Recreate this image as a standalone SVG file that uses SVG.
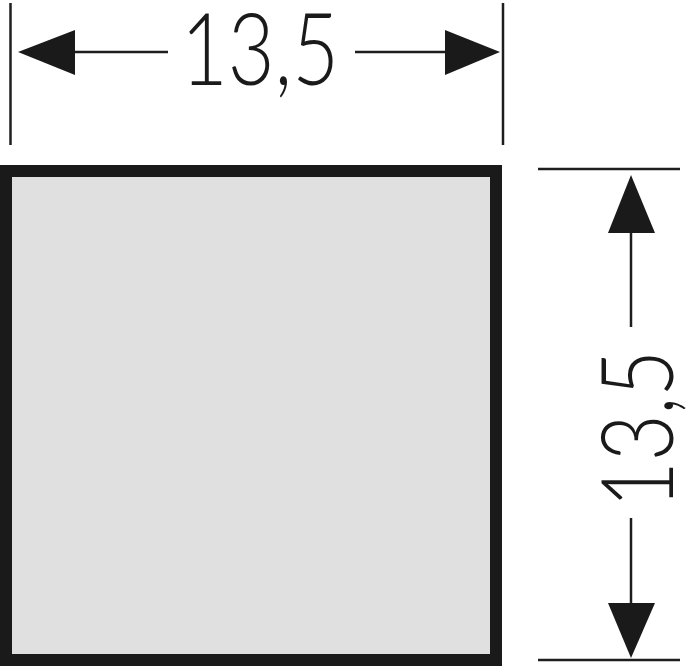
<svg xmlns="http://www.w3.org/2000/svg" width="700" height="666" viewBox="0 0 700 666">
<style>
.ln{stroke:#1e1e1e;stroke-width:2.5;fill:none}
.ah{fill:#1a1a1a}
.t{font-family:Lato,"Open Sans","DejaVu Sans Condensed",sans-serif;font-weight:300;font-size:100px;fill:#1a1a1a;text-anchor:middle}
</style>
<rect width="700" height="666" fill="#ffffff"/>
<g id="square">
<rect x="6" y="171" width="490" height="489" fill="#e0e0e0" stroke="#1a1a1a" stroke-width="12"/>
</g>
<g id="connectors">
<line class="ln" x1="10.5" y1="3" x2="10.5" y2="145"/>
<line class="ln" x1="503" y1="3" x2="503" y2="145"/>
<line class="ln" x1="538" y1="169" x2="680" y2="169"/>
<line class="ln" x1="538" y1="660" x2="680" y2="660"/>
<line class="ln" x1="70" y1="52" x2="168" y2="52"/>
<line class="ln" x1="355" y1="52" x2="450" y2="52"/>
<line class="ln" x1="631" y1="228" x2="631" y2="327"/>
<line class="ln" x1="631" y1="518" x2="631" y2="608"/>
<polygon class="ah" points="18,52 75,30 75,75"/>
<polygon class="ah" points="500,52 445,30 445,75"/>
<polygon class="ah" points="631,175 608,233 655,233"/>
<polygon class="ah" points="631,658 608,603 655,603"/>
</g>
<g id="label-top">
<text class="t" x="260" y="85" textLength="158" lengthAdjust="spacingAndGlyphs">13,5</text>
</g>
<g id="label-right">
<text class="t" transform="translate(673,429) rotate(-90)" x="0" y="0" textLength="158" lengthAdjust="spacingAndGlyphs">13,5</text>
</g>
</svg>
